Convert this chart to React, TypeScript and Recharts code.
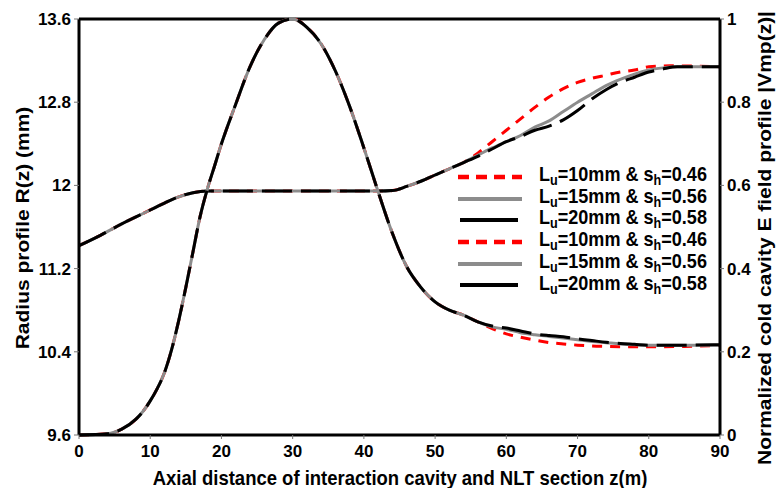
import { LineChart, Line, XAxis, YAxis, ReferenceLine } from 'recharts';

// radius profile R(z), shared part up to z=54
const zRadiusShared = [0, 3, 6, 9, 12, 14, 16, 18, 20, 30, 42, 44, 46, 48, 50, 52, 54];
const radiusShared = [11.42, 11.52, 11.63, 11.73, 11.83, 11.89, 11.93, 11.945, 11.945, 11.945, 11.945, 11.95, 11.99, 12.04, 12.1, 12.16, 12.22];

const zRadiusRed = [56, 58, 60, 62, 64, 66, 68, 70, 72, 74, 76, 78, 80, 83, 90];
const radiusRed = [12.31, 12.42, 12.53, 12.64, 12.75, 12.85, 12.93, 12.99, 13.03, 13.06, 13.09, 13.11, 13.14, 13.15, 13.14];

const zRadiusGray = [56, 58, 60, 62, 64, 66, 68, 70, 72, 74, 76, 78, 80, 82, 84, 90];
const radiusGray = [12.29, 12.36, 12.42, 12.48, 12.56, 12.62, 12.71, 12.8, 12.88, 12.96, 13.02, 13.07, 13.11, 13.13, 13.14, 13.14];

const zRadiusBlack = [56, 58, 60, 62, 64, 66, 68, 70, 72, 74, 76, 78, 80, 82, 84, 90];
const radiusBlack = [12.28, 12.35, 12.42, 12.47, 12.53, 12.57, 12.63, 12.72, 12.83, 12.92, 12.99, 13.04, 13.09, 13.12, 13.14, 13.14];

// normalized field |Vmp(z)|, shared part up to z=56
const zFieldShared = [0, 4, 6, 8, 9, 10, 11, 12, 13, 14, 15, 16, 17, 18, 19, 20, 22, 24, 26, 28, 30, 32, 34, 36, 38, 40, 42, 44, 46, 48, 50, 52, 54, 56];
const fieldShared = [0, 0.003, 0.014, 0.038, 0.057, 0.082, 0.112, 0.15, 0.205, 0.275, 0.355, 0.44, 0.525, 0.59, 0.645, 0.7, 0.795, 0.885, 0.95, 0.99, 1.0, 0.98, 0.94, 0.875, 0.79, 0.69, 0.585, 0.485, 0.405, 0.355, 0.32, 0.3, 0.288, 0.272];

const zFieldRed = [58, 60, 62, 64, 66, 68, 70, 72, 74, 77, 80, 85, 90];
const fieldRed = [0.256, 0.243, 0.235, 0.228, 0.222, 0.219, 0.216, 0.214, 0.213, 0.212, 0.212, 0.213, 0.215];

const zFieldGray = [58, 60, 62, 64, 66, 68, 70, 72, 74, 76, 78, 80, 85, 90];
const fieldGray = [0.26, 0.254, 0.246, 0.241, 0.237, 0.233, 0.229, 0.225, 0.222, 0.219, 0.217, 0.216, 0.216, 0.216];

const zFieldBlack = [58, 60, 62, 64, 66, 68, 70, 72, 74, 76, 78, 80, 85, 90];
const fieldBlack = [0.262, 0.257, 0.25, 0.243, 0.239, 0.236, 0.231, 0.227, 0.223, 0.22, 0.218, 0.216, 0.216, 0.217];

const xTicks = [0, 10, 20, 30, 40, 50, 60, 70, 80, 90];
const leftTicks = [9.6, 10.4, 11.2, 12, 12.8, 13.6];
const rightTicks = [0, 0.2, 0.4, 0.6, 0.8, 1];

const legendItems = [
  { lu: '10', sh: '0.46', kind: 'red' },
  { lu: '15', sh: '0.56', kind: 'gray' },
  { lu: '20', sh: '0.58', kind: 'black' },
  { lu: '10', sh: '0.46', kind: 'red' },
  { lu: '15', sh: '0.56', kind: 'gray' },
  { lu: '20', sh: '0.58', kind: 'black' },
];

const rows = (zs: number[], vs: number[]) => zs.map((z, i) => ({ z, v: vs[i] }));

const radiusRedData = rows([...zRadiusShared, ...zRadiusRed], [...radiusShared, ...radiusRed]);
const radiusGrayData = rows([...zRadiusShared, ...zRadiusGray], [...radiusShared, ...radiusGray]);
const radiusBlackData = rows([...zRadiusShared, ...zRadiusBlack], [...radiusShared, ...radiusBlack]);
const fieldRedData = rows([...zFieldShared, ...zFieldRed], [...fieldShared, ...fieldRed]);
const fieldGrayData = rows([...zFieldShared, ...zFieldGray], [...fieldShared, ...fieldGray]);
const fieldBlackData = rows([...zFieldShared, ...zFieldBlack], [...fieldShared, ...fieldBlack]);

const FONT = '"Liberation Sans", Arial, sans-serif';
const NARROW = '"Liberation Sans Narrow", "Liberation Sans", Arial, sans-serif';
const tickStyle = { fontSize: 17, fill: '#000', fontWeight: 700, fontFamily: NARROW };

const RED = '#ff0000';
const GRAY = '#8c8c8c';
const BLACK = '#000000';

function LegendSample({ kind }: { kind: string }) {
  if (kind === 'red') {
    return (
      <svg width={64} height={8}>
        <line x1={0} y1={4} x2={64} y2={4} stroke={RED} strokeWidth={4.5} strokeDasharray="11 7" />
      </svg>
    );
  }
  return (
    <svg width={64} height={8}>
      <line x1={kind === 'black' ? 2 : 0} y1={4} x2={kind === 'black' ? 60 : 64} y2={4} stroke={kind === 'gray' ? GRAY : BLACK} strokeWidth={4} />
    </svg>
  );
}

export default function App() {
  return (
    <div style={{ position: 'absolute', left: 0, top: 0, width: 776, height: 488, background: '#fff', fontFamily: FONT }}>
      <LineChart width={776} height={488} margin={{ top: 19, right: 0, bottom: 0, left: 0 }}>
        <XAxis
          dataKey="z"
          type="number"
          domain={[0, 90]}
          ticks={xTicks}
          allowDuplicatedCategory={false}
          height={53}
          tick={tickStyle}
          tickSize={4}
          tickMargin={6}
          axisLine={{ stroke: '#000', strokeWidth: 3 }}
          tickLine={{ stroke: '#777', strokeWidth: 1 }}
        />
        <YAxis
          yAxisId="left"
          orientation="left"
          domain={[9.6, 13.6]}
          ticks={leftTicks}
          width={79}
          tick={tickStyle}
          tickSize={5}
          tickMargin={3}
          axisLine={{ stroke: '#000', strokeWidth: 3 }}
          tickLine={{ stroke: '#777', strokeWidth: 1 }}
          allowDataOverflow
        />
        <YAxis
          yAxisId="right"
          orientation="right"
          domain={[0, 1]}
          ticks={rightTicks}
          width={56}
          tick={tickStyle}
          tickSize={4}
          tickMargin={3}
          axisLine={{ stroke: '#000', strokeWidth: 3 }}
          tickLine={{ stroke: '#777', strokeWidth: 1 }}
        />
        <ReferenceLine yAxisId="left" y={13.6} stroke="#000" strokeWidth={3} ifOverflow="visible" />

        <Line yAxisId="left" data={radiusRedData} dataKey="v" type="monotone" stroke={RED} strokeWidth={3} strokeDasharray="10 8" dot={false} isAnimationActive={false} />
        <Line yAxisId="left" data={radiusGrayData} dataKey="v" type="monotone" stroke={GRAY} strokeWidth={3} dot={false} isAnimationActive={false} />
        <Line yAxisId="left" data={radiusBlackData} dataKey="v" type="monotone" stroke={BLACK} strokeWidth={3} strokeDasharray="30 9" dot={false} isAnimationActive={false} />

        <Line yAxisId="right" data={fieldRedData} dataKey="v" type="monotone" stroke={RED} strokeWidth={3} strokeDasharray="10 8" dot={false} isAnimationActive={false} />
        <Line yAxisId="right" data={fieldGrayData} dataKey="v" type="monotone" stroke={GRAY} strokeWidth={3} dot={false} isAnimationActive={false} />
        <Line yAxisId="right" data={fieldBlackData} dataKey="v" type="monotone" stroke={BLACK} strokeWidth={3} strokeDasharray="30 9" dot={false} isAnimationActive={false} />
      </LineChart>

      {/* legend */}
      <div style={{ position: 'absolute', left: 458, top: 166 }}>
        {legendItems.map((it, i) => (
          <div key={i} style={{ display: 'flex', alignItems: 'center', height: 21.7 }}>
            <LegendSample kind={it.kind} />
            <span
              style={{
                marginLeft: 17,
                fontSize: 20.5,
                fontWeight: 700,
                lineHeight: '21px',
                whiteSpace: 'nowrap',
                display: 'inline-block',
                transform: 'scaleX(0.88)',
                transformOrigin: 'left center',
              }}
            >
              L<sub style={{ fontSize: '0.7em', verticalAlign: '-0.25em' }}>u</sub>={it.lu}mm &amp; s
              <sub style={{ fontSize: '0.7em', verticalAlign: '-0.25em' }}>h</sub>={it.sh}
            </span>
          </div>
        ))}
      </div>

      {/* axis titles */}
      <div
        style={{
          position: 'absolute', left: 400, top: 478, fontSize: 21, fontWeight: 700, whiteSpace: 'nowrap',
          transform: 'translate(-50%, -50%) scaleX(0.88)', lineHeight: '22px',
        }}
      >
        Axial distance of interaction cavity and NLT section z(m)
      </div>
      <div
        style={{
          position: 'absolute', left: 23, top: 228, fontSize: 21, fontWeight: 700, whiteSpace: 'nowrap',
          transform: 'translate(-50%, -50%) rotate(-90deg) scaleY(0.88)', lineHeight: '22px',
        }}
      >
        Radius profile R(z) (mm)
      </div>
      <div
        style={{
          position: 'absolute', left: 765, top: 238, fontSize: 21, fontWeight: 700, whiteSpace: 'nowrap',
          transform: 'translate(-50%, -50%) rotate(-90deg) scaleY(0.88)', lineHeight: '22px',
        }}
      >
        Normalized cold cavity E field profile |Vmp(z)|
      </div>
    </div>
  );
}
